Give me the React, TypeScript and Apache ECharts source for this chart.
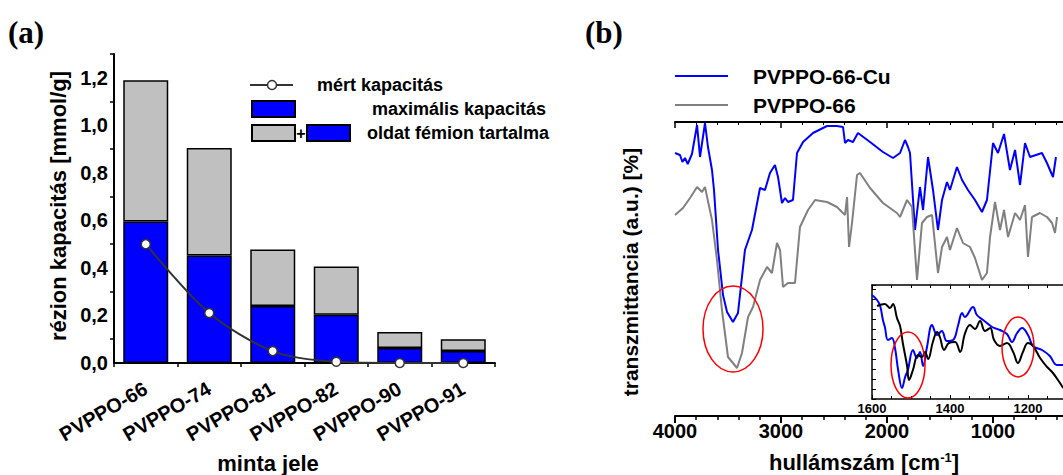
import React, { useEffect, useRef } from 'react';
import * as echarts from 'echarts';

// ---------- Panel (a) data ----------
const categories = ['PVPPO-66', 'PVPPO-74', 'PVPPO-81', 'PVPPO-82', 'PVPPO-90', 'PVPPO-91'];
const oldatTotal = [1.19, 0.905, 0.478, 0.406, 0.13, 0.1];
const maxKapacitas = [0.595, 0.452, 0.24, 0.203, 0.063, 0.05];
const mertKapacitas = [0.5, 0.21, 0.05, 0.005, 0.0, 0.0];

// ---------- Panel (b) main spectra ----------
const blueWn = [4000, 3953, 3930, 3906, 3880, 3840, 3792, 3764, 3717, 3689, 3651, 3632, 3594, 3547, 3509, 3453, 3406, 3340, 3274, 3198, 3151, 3104, 3057, 3028, 2991, 2962, 2934, 2887, 2849, 2792, 2698, 2566, 2472, 2415, 2396, 2368, 2321, 2274, 2160, 2038, 1943, 1877, 1830, 1802, 1783, 1736, 1689, 1660, 1613, 1566, 1519, 1481, 1434, 1406, 1340, 1292, 1236, 1170, 1104, 1057, 1000, 953, 896, 840, 792, 745, 698, 651, 538, 491, 434, 406];
const blueT = [263, 261, 254, 258, 252, 262, 291, 259, 293, 269, 246, 226, 166, 121, 104, 94, 103, 166, 186, 228, 226, 243, 251, 239, 213, 218, 214, 216, 263, 274, 283, 290, 290, 289, 273, 276, 274, 283, 274, 264, 258, 263, 276, 269, 263, 186, 229, 206, 259, 226, 186, 216, 234, 226, 249, 236, 226, 216, 204, 216, 273, 263, 282, 246, 266, 231, 273, 259, 263, 253, 239, 259];
const grayWn = [4000, 3925, 3858, 3792, 3745, 3717, 3651, 3604, 3557, 3500, 3415, 3368, 3311, 3264, 3198, 3132, 3085, 3038, 3009, 2981, 2934, 2868, 2821, 2745, 2679, 2566, 2472, 2425, 2396, 2377, 2358, 2330, 2283, 2255, 2160, 2038, 1906, 1877, 1811, 1764, 1717, 1670, 1623, 1575, 1519, 1481, 1434, 1406, 1340, 1283, 1217, 1170, 1104, 1057, 1028, 981, 934, 896, 858, 792, 745, 698, 670, 632, 557, 491, 443, 415, 396];
const grayT = [201, 208, 218, 229, 224, 229, 196, 156, 106, 59, 48, 63, 99, 109, 136, 149, 143, 173, 166, 129, 133, 133, 189, 206, 216, 214, 209, 204, 201, 219, 169, 193, 241, 243, 228, 213, 203, 199, 216, 209, 136, 193, 199, 201, 143, 169, 179, 166, 188, 173, 169, 158, 136, 143, 179, 214, 186, 206, 179, 203, 196, 211, 159, 199, 203, 199, 193, 183, 199];

// ---------- Panel (b) inset spectra ----------
const insetBlueWn = [1600, 1587, 1579, 1572, 1567, 1559, 1549, 1541, 1533, 1523, 1515, 1508, 1495, 1485, 1477, 1469, 1459, 1446, 1433, 1421, 1408, 1392, 1379, 1369, 1362, 1341, 1331, 1315, 1292, 1272, 1254, 1241, 1228, 1215, 1200, 1187, 1164, 1144, 1126, 1110];
const insetBlueT = [104, 99, 93, 79, 72, 59, 61, 51, 29, 11, 22, 29, 49, 41, 47, 33, 52, 74, 64, 68, 58, 59, 74, 86, 82, 92, 84, 79, 72, 69, 65, 57, 66, 71, 64, 53, 49, 43, 34, 34];
const insetBlackWn = [1587, 1567, 1554, 1546, 1536, 1528, 1521, 1510, 1505, 1495, 1482, 1472, 1464, 1456, 1444, 1433, 1426, 1415, 1403, 1387, 1374, 1362, 1349, 1336, 1323, 1310, 1297, 1287, 1272, 1254, 1238, 1226, 1213, 1200, 1187, 1169, 1151, 1136, 1118, 1110];
const insetBlackT = [93, 95, 91, 95, 81, 73, 56, 33, 19, 29, 44, 42, 47, 40, 57, 67, 62, 49, 56, 57, 47, 65, 74, 70, 78, 68, 71, 59, 53, 56, 47, 36, 47, 56, 53, 41, 32, 26, 16, 11];

const FONT = 'Arial, "Liberation Sans", Helvetica, sans-serif';
const SERIF = '"Times New Roman", "Liberation Serif", serif';
const BLACK = '#000';
const CANVAS_W = 1140;

const pairs = (xs: number[], ys: number[]) => xs.map((x, i) => [x, ys[i]]);

function buildOption(): any {
  const grayDiff = oldatTotal.map((t, i) => +(t - maxKapacitas[i]).toFixed(3));
  const axisLine = { show: true, lineStyle: { color: BLACK, width: 2 } };
  const txt = (text: string, x: number, y: number, size: number, extra: any = {}) => ({
    type: 'text',
    x,
    y,
    z: 50,
    style: { text, font: `bold ${size}px ${FONT}`, fill: BLACK, textAlign: 'left', textVerticalAlign: 'middle', ...extra },
  });
  return {
    animation: false,
    backgroundColor: '#fff',
    textStyle: { fontFamily: FONT },
    grid: [
      { left: 114, top: 54, width: 381, height: 309 },
      { left: 675, top: 122, width: 424, height: 294 },
      { left: 872, top: 285, width: 234, height: 114, show: true, backgroundColor: '#fff', borderWidth: 0 },
    ],
    xAxis: [
      {
        type: 'category', gridIndex: 0, data: categories, position: 'bottom',
        axisLine, axisTick: { alignWithLabel: true, length: 7, lineStyle: { color: BLACK, width: 2 } },
        axisLabel: { rotate: 30, interval: 0, fontWeight: 'bold', fontSize: 20, color: BLACK, margin: 24, fontFamily: FONT },
      },
      {
        type: 'category', gridIndex: 0, data: categories, position: 'bottom',
        axisLine: { show: false }, axisTick: { show: true, interval: 0, length: 4, lineStyle: { color: BLACK, width: 1.5 } },
        axisLabel: { show: false },
      },
      {
        type: 'value', gridIndex: 1, min: 0, max: 4000, interval: 1000, inverse: true, position: 'bottom',
        axisLine, splitLine: { show: false },
        axisTick: { length: 7, lineStyle: { color: BLACK, width: 2 } },
        minorTick: { show: true, splitNumber: 5, length: 4, lineStyle: { color: BLACK, width: 1.5 } },
        axisLabel: { fontWeight: 'bold', fontSize: 20, color: BLACK, margin: 5, fontFamily: FONT, formatter: (v: number) => (v === 0 ? '' : String(v)) },
      },
      {
        type: 'value', gridIndex: 1, min: 0, max: 4000, interval: 1000, inverse: true, position: 'top',
        axisLine, splitLine: { show: false },
        axisTick: { inside: true, length: 6, lineStyle: { color: BLACK, width: 1.5 } },
        minorTick: { show: true, splitNumber: 5, length: 3, lineStyle: { color: BLACK, width: 1 } },
        axisLabel: { show: false },
      },
      {
        type: 'value', gridIndex: 2, min: 1000, max: 1600, interval: 200, inverse: true, position: 'bottom',
        axisLine: { show: true, lineStyle: { color: BLACK, width: 1.5 } }, splitLine: { show: false },
        axisTick: { inside: true, length: 4, lineStyle: { color: BLACK, width: 1 } },
        minorTick: { show: true, splitNumber: 4, length: 3, lineStyle: { color: BLACK, width: 1 } },
        axisLabel: { fontWeight: 'bold', fontSize: 13, color: BLACK, margin: 3, fontFamily: FONT, formatter: (v: number) => (v === 1000 ? '' : String(v)) },
      },
      {
        type: 'value', gridIndex: 2, min: 1000, max: 1600, interval: 200, inverse: true, position: 'top',
        axisLine: { show: true, lineStyle: { color: BLACK, width: 1.5 } }, splitLine: { show: false },
        axisTick: { inside: true, length: 4, lineStyle: { color: BLACK, width: 1 } },
        minorTick: { show: true, splitNumber: 4, length: 3, lineStyle: { color: BLACK, width: 1 } },
        axisLabel: { show: false },
      },
    ],
    yAxis: [
      {
        type: 'value', gridIndex: 0, min: 0, max: 1.3, interval: 0.2,
        axisLine, splitLine: { show: false },
        axisTick: { length: 7, lineStyle: { color: BLACK, width: 2 } },
        minorTick: { show: true, splitNumber: 2, length: 4, lineStyle: { color: BLACK, width: 1.5 } },
        axisLabel: {
          fontWeight: 'bold', fontSize: 20, color: BLACK, margin: 6, fontFamily: FONT,
          formatter: (v: number) => (Math.round(v * 10) % 2 === 0 ? v.toFixed(1).replace('.', ',') : ''),
        },
      },
      {
        type: 'value', gridIndex: 1, min: 0, max: 294,
        axisLine, splitLine: { show: false },
        axisTick: { inside: true, length: 6, customValues: [126], lineStyle: { color: BLACK, width: 1.5 } },
        axisLabel: { show: false },
      },
      {
        type: 'value', gridIndex: 2, min: 0, max: 114, interval: 10,
        axisLine: { show: true, lineStyle: { color: BLACK, width: 1.5 } }, splitLine: { show: false },
        axisTick: { inside: true, length: 4, lineStyle: { color: BLACK, width: 1 } },
        axisLabel: { show: false },
      },
    ],
    series: [
      {
        name: 'maximális kapacitás', type: 'bar', xAxisIndex: 0, yAxisIndex: 0, stack: 'a', barWidth: 45,
        data: maxKapacitas, itemStyle: { color: '#0000ff', borderColor: BLACK, borderWidth: 1.5 },
      },
      {
        name: 'oldat fémion tartalma', type: 'bar', xAxisIndex: 0, yAxisIndex: 0, stack: 'a', barWidth: 45,
        data: grayDiff, itemStyle: { color: '#c0c0c0', borderColor: BLACK, borderWidth: 1.5 },
      },
      {
        name: 'mért kapacitás', type: 'line', xAxisIndex: 0, yAxisIndex: 0, data: mertKapacitas, smooth: 0.3, z: 5,
        lineStyle: { color: '#333', width: 2 }, symbol: 'circle', symbolSize: 9,
        itemStyle: { color: '#fff', borderColor: '#333', borderWidth: 1.5 },
      },
      {
        name: 'PVPPO-66-Cu', type: 'line', xAxisIndex: 2, yAxisIndex: 1, data: pairs(blueWn, blueT), showSymbol: false,
        lineStyle: { color: '#0000ff', width: 2 },
      },
      {
        name: 'PVPPO-66', type: 'line', xAxisIndex: 2, yAxisIndex: 1, data: pairs(grayWn, grayT), showSymbol: false,
        lineStyle: { color: '#808080', width: 2 },
      },
      {
        name: 'inset PVPPO-66-Cu', type: 'line', xAxisIndex: 4, yAxisIndex: 2, data: pairs(insetBlueWn, insetBlueT), showSymbol: false, smooth: 0.4,
        lineStyle: { color: '#0000ff', width: 2 },
      },
      {
        name: 'inset PVPPO-66', type: 'line', xAxisIndex: 4, yAxisIndex: 2, data: pairs(insetBlackWn, insetBlackT), showSymbol: false, smooth: 0.4,
        lineStyle: { color: '#000', width: 2 },
      },
    ],
    graphic: [
      { type: 'text', x: 8, y: 32, z: 50, style: { text: '(a)', font: `bold 31px ${SERIF}`, fill: BLACK, textVerticalAlign: 'middle' } },
      { type: 'text', x: 585, y: 32, z: 50, style: { text: '(b)', font: `bold 31px ${SERIF}`, fill: BLACK, textVerticalAlign: 'middle' } },
      // axis titles
      { type: 'text', x: 58, y: 206, rotation: Math.PI / 2, z: 50, style: { text: 'rézion kapacitás [mmol/g]', font: `bold 22px ${FONT}`, fill: BLACK, textAlign: 'center', textVerticalAlign: 'middle' } },
      { type: 'text', x: 268, y: 463, z: 50, style: { text: 'minta jele', font: `bold 22px ${FONT}`, fill: BLACK, textAlign: 'center', textVerticalAlign: 'middle' } },
      { type: 'text', x: 630, y: 272, rotation: Math.PI / 2, z: 50, style: { text: 'transzmittancia (a.u.) [%]', font: `bold 21px ${FONT}`, fill: BLACK, textAlign: 'center', textVerticalAlign: 'middle' } },
      {
        type: 'text', x: 864, y: 462, z: 50,
        style: {
          text: 'hullámszám [cm{sup|-1}]', font: `bold 22px ${FONT}`, fill: BLACK, textAlign: 'center', textVerticalAlign: 'middle',
          rich: { sup: { fontSize: 13, fontWeight: 'bold', fontFamily: FONT, verticalAlign: 'top', fill: BLACK } },
        },
      },
      // legend (a)
      { type: 'line', z: 50, shape: { x1: 250, y1: 85, x2: 293, y2: 85 }, style: { stroke: '#333', lineWidth: 2 } },
      { type: 'circle', z: 51, shape: { cx: 272, cy: 85, r: 4.5 }, style: { fill: '#fff', stroke: '#333', lineWidth: 1.5 } },
      txt('mért kapacitás', 317, 85, 18),
      { type: 'rect', z: 50, shape: { x: 252, y: 101, width: 43, height: 16 }, style: { fill: '#0000ff', stroke: BLACK, lineWidth: 2 } },
      txt('maximális kapacitás', 372, 109, 18),
      { type: 'rect', z: 50, shape: { x: 252, y: 125, width: 43, height: 16 }, style: { fill: '#c0c0c0', stroke: BLACK, lineWidth: 2 } },
      txt('+', 301, 133, 16, { textAlign: 'center' }),
      { type: 'rect', z: 50, shape: { x: 307, y: 125, width: 43, height: 16 }, style: { fill: '#0000ff', stroke: BLACK, lineWidth: 2 } },
      txt('oldat fémion tartalma', 367, 133, 18),
      // legend (b)
      { type: 'line', z: 50, shape: { x1: 675, y1: 76, x2: 728, y2: 76 }, style: { stroke: '#0000ff', lineWidth: 2 } },
      txt('PVPPO-66-Cu', 753, 76, 21),
      { type: 'line', z: 50, shape: { x1: 675, y1: 105, x2: 728, y2: 105 }, style: { stroke: '#808080', lineWidth: 2 } },
      txt('PVPPO-66', 753, 105, 21),
      // red ellipses
      { type: 'ellipse', z: 60, shape: { cx: 733, cy: 329, rx: 30, ry: 43 }, style: { fill: 'none', stroke: '#ff0000', lineWidth: 1.5 } },
      { type: 'ellipse', z: 60, shape: { cx: 908, cy: 365, rx: 17, ry: 33 }, style: { fill: 'none', stroke: '#ff0000', lineWidth: 1.5 } },
      { type: 'ellipse', z: 60, shape: { cx: 1018, cy: 347, rx: 16, ry: 30 }, style: { fill: 'none', stroke: '#ff0000', lineWidth: 1.5 } },
    ],
  };
}

export default function App() {
  const ref = useRef<HTMLDivElement>(null);
  useEffect(() => {
    if (!ref.current) return;
    const chart = echarts.init(ref.current, null, { renderer: 'svg', width: CANVAS_W, height: 475 });
    chart.setOption(buildOption());
    return () => chart.dispose();
  }, []);
  return (
    <div style={{ position: 'fixed', left: 0, top: 0, width: 1063, height: 475, background: '#fff', overflow: 'hidden' }}>
      <div ref={ref} style={{ position: 'absolute', left: 0, top: 0, width: CANVAS_W, height: 475 }} />
    </div>
  );
}
